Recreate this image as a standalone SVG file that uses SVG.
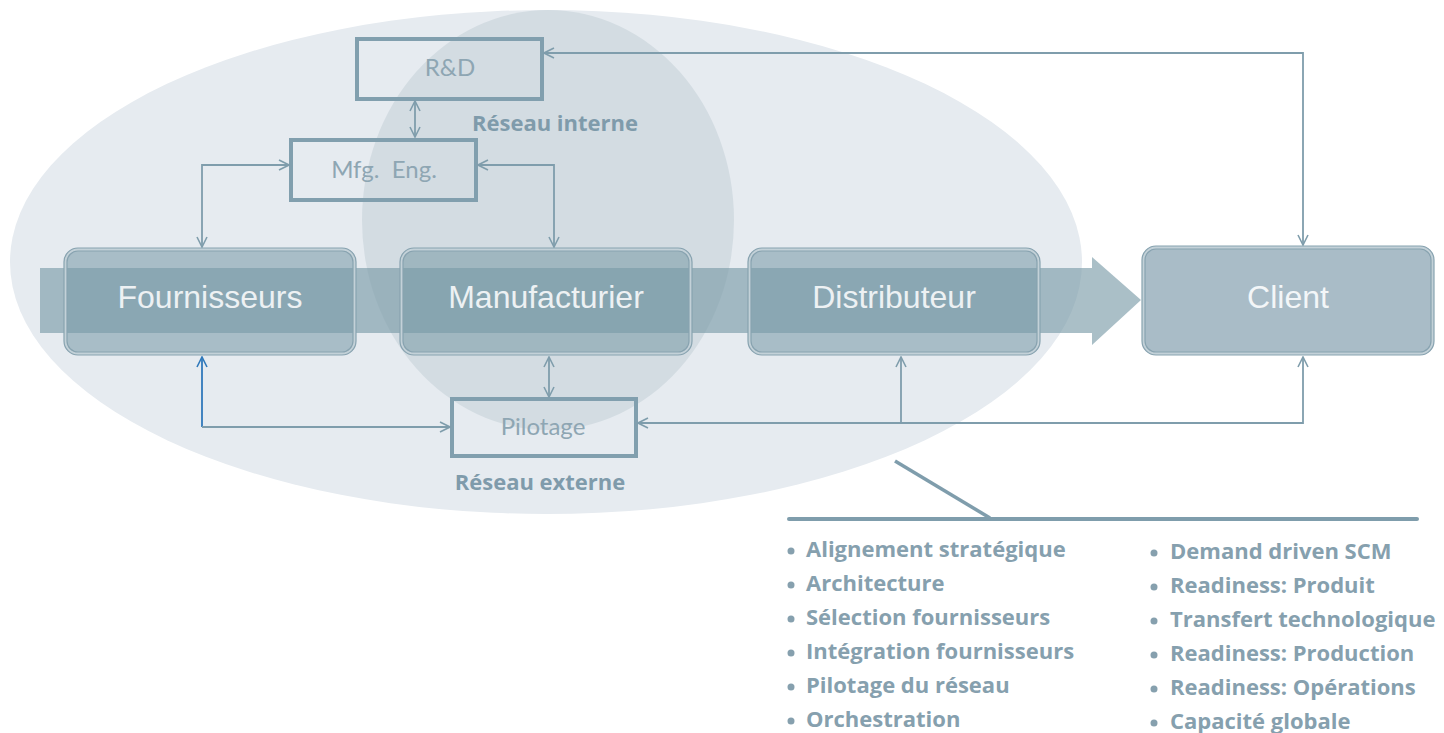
<svg xmlns="http://www.w3.org/2000/svg" width="1444" height="733" viewBox="0 0 1444 733">
<defs>
<style>
.main{font-family:"Liberation Sans",Arial,sans-serif;font-size:32px;fill:#edf1f3;text-anchor:middle}
.lbl{font-family:Lato,"Open Sans",sans-serif;font-size:24px;fill:#8ea6b3;text-anchor:middle}
.net{font-family:"Open Sans",Lato,sans-serif;font-weight:bold;font-size:22px;fill:#7f9bab;text-anchor:middle}
.li{font-family:"Open Sans",Lato,sans-serif;font-weight:bold;font-size:22px;fill:#86a0ae}
.thick{fill:none;stroke:#819fae;stroke-width:4}
.box{fill:#799aa7;fill-opacity:0.57}
.bl{fill:none;stroke:#c3d1d8;stroke-width:3}
.bd{fill:none;stroke:#88a3b0;stroke-width:1.2}
.con{fill:none;stroke:#7f9dac;stroke-width:1.8}
.blue{fill:none;stroke:#3079bb;stroke-width:1.8}
.bul{fill:#86a0ae}
</style>
<marker id="ah" viewBox="0 0 12 12" refX="11" refY="6" markerWidth="12" markerHeight="12" markerUnits="userSpaceOnUse" orient="auto-start-reverse">
<path d="M1,1 L11,6 L1,11" fill="none" stroke="#7f9dac" stroke-width="1.6"/>
</marker>
<marker id="ahb" viewBox="0 0 12 12" refX="11" refY="6" markerWidth="12" markerHeight="12" markerUnits="userSpaceOnUse" orient="auto-start-reverse">
<path d="M1,1 L11,6 L1,11" fill="none" stroke="#3079bb" stroke-width="1.6"/>
</marker>
</defs>
<rect width="1444" height="733" fill="#ffffff"/>
<g id="networks">
<ellipse cx="546" cy="262" rx="536" ry="252" fill="#e6ebf0"/>
<ellipse cx="548" cy="220" rx="186" ry="210" fill="#d3dce2"/>
</g>
<g id="flow-arrow">
<path d="M40,268 H1092 V257 L1141,300 L1092,345 V333 H40 Z" fill="#799aa7" fill-opacity="0.63"/>
</g>
<g id="fournisseurs">
<rect class="box" x="64" y="248" width="292" height="107" rx="14"/>
<rect class="bl" x="65.5" y="249.5" width="289" height="104" rx="12.5"/>
<rect class="bd" x="64" y="248" width="292" height="107" rx="14"/>
<rect class="bd" x="67" y="251" width="286" height="101" rx="11"/>
<text class="main" x="210" y="308">Fournisseurs</text>
</g>
<g id="manufacturier">
<rect class="box" x="400" y="248" width="292" height="107" rx="14"/>
<rect class="bl" x="401.5" y="249.5" width="289" height="104" rx="12.5"/>
<rect class="bd" x="400" y="248" width="292" height="107" rx="14"/>
<rect class="bd" x="403" y="251" width="286" height="101" rx="11"/>
<text class="main" x="546" y="308">Manufacturier</text>
</g>
<g id="distributeur">
<rect class="box" x="748" y="248" width="292" height="107" rx="14"/>
<rect class="bl" x="749.5" y="249.5" width="289" height="104" rx="12.5"/>
<rect class="bd" x="748" y="248" width="292" height="107" rx="14"/>
<rect class="bd" x="751" y="251" width="286" height="101" rx="11"/>
<text class="main" x="894" y="308">Distributeur</text>
</g>
<g id="client">
<rect x="1142" y="246" width="292" height="109" rx="14" fill="#a9bcc7"/>
<rect class="bl" x="1143.5" y="247.5" width="289" height="106" rx="12.5"/>
<rect class="bd" x="1142" y="246" width="292" height="109" rx="14"/>
<rect class="bd" x="1145" y="249" width="286" height="103" rx="11"/>
<text class="main" x="1288" y="308" style="fill:#f3f6f8">Client</text>
</g>
<g id="rd">
<rect class="thick" x="357" y="39" width="185" height="60"/>
<text class="lbl" x="450" y="76">R&amp;D</text>
</g>
<g id="mfg-eng">
<rect class="thick" x="291" y="140" width="185" height="60"/>
<text class="lbl" x="384" y="178" xml:space="preserve">Mfg.  Eng.</text>
</g>
<g id="pilotage">
<rect class="thick" x="452" y="399" width="184" height="57"/>
<text class="lbl" x="543" y="435">Pilotage</text>
</g>
<g id="labels">
<text class="net" x="555" y="131">Réseau interne</text>
<text class="net" x="540" y="490">Réseau externe</text>
</g>
<g id="connectors">
<path class="con" d="M415,101 V137" marker-start="url(#ah)" marker-end="url(#ah)"/>
<path class="con" d="M289,165 H202 V247" marker-start="url(#ah)" marker-end="url(#ah)"/>
<path class="con" d="M478,165 H554 V247" marker-start="url(#ah)" marker-end="url(#ah)"/>
<path class="con" d="M544,53 H1303 V245" marker-start="url(#ah)" marker-end="url(#ah)"/>
<path class="con" d="M549,357 V397" marker-start="url(#ah)" marker-end="url(#ah)"/>
<path class="blue" d="M202,427 V357" marker-end="url(#ahb)"/>
<path class="con" d="M202,427 H450" marker-end="url(#ah)"/>
<path class="con" d="M1303,357 V423 H638" marker-start="url(#ah)" marker-end="url(#ah)"/>
<path class="con" d="M901,423 V357" marker-end="url(#ah)"/>
</g>
<g id="bracket">
<path d="M895,461 L990,518" fill="none" stroke="#7f9dac" stroke-width="3.5"/>
<path d="M789,519 H1417" fill="none" stroke="#7f9dac" stroke-width="4" stroke-linecap="round"/>
</g>
<g id="list-left">
<circle class="bul" cx="791" cy="551" r="3.5"/><text class="li" x="806" y="557">Alignement stratégique</text>
<circle class="bul" cx="791" cy="585" r="3.5"/><text class="li" x="806" y="591">Architecture</text>
<circle class="bul" cx="791" cy="619" r="3.5"/><text class="li" x="806" y="625">Sélection fournisseurs</text>
<circle class="bul" cx="791" cy="653" r="3.5"/><text class="li" x="806" y="659">Intégration fournisseurs</text>
<circle class="bul" cx="791" cy="687" r="3.5"/><text class="li" x="806" y="693">Pilotage du réseau</text>
<circle class="bul" cx="791" cy="721" r="3.5"/><text class="li" x="806" y="727">Orchestration</text>
</g>
<g id="list-right">
<circle class="bul" cx="1154" cy="553" r="3.5"/><text class="li" x="1170" y="559">Demand driven SCM</text>
<circle class="bul" cx="1154" cy="587" r="3.5"/><text class="li" x="1170" y="593">Readiness: Produit</text>
<circle class="bul" cx="1154" cy="621" r="3.5"/><text class="li" x="1170" y="627">Transfert technologique</text>
<circle class="bul" cx="1154" cy="655" r="3.5"/><text class="li" x="1170" y="661">Readiness: Production</text>
<circle class="bul" cx="1154" cy="689" r="3.5"/><text class="li" x="1170" y="695">Readiness: Opérations</text>
<circle class="bul" cx="1154" cy="723" r="3.5"/><text class="li" x="1170" y="729">Capacité globale</text>
</g>
</svg>
